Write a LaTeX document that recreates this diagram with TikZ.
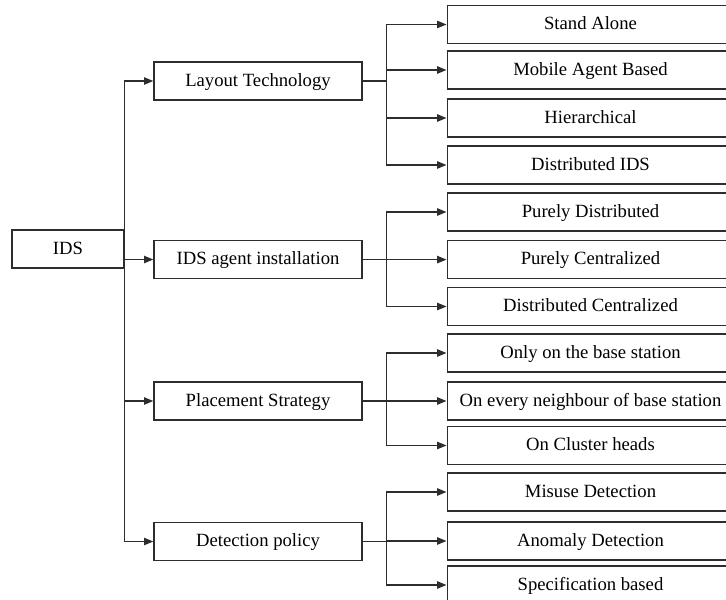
\documentclass[tikz,border=0pt]{standalone}
\usepackage{fontspec}
\setmainfont{Liberation Serif}
\usetikzlibrary{arrows.meta}
\definecolor{edge}{RGB}{45,45,45}
\tikzset{
  box/.style={draw=edge, line width=1pt, rectangle, inner sep=0pt,
    minimum height=28.3pt, text height=10pt, text depth=2.5pt,
    font=\fontsize{14}{16}\selectfont},
  rootbox/.style={box, minimum width=84pt},
  midbox/.style={box, minimum width=156pt},
  leafbox/.style={box, minimum width=215pt},
  link/.style={draw=edge, line width=1pt},
  arr/.style={link, -{Triangle[length=7pt,width=5.5pt]}}
}
\begin{document}
\begin{tikzpicture}[x=0.75pt,y=-0.75pt]
\useasboundingbox (0,0) rectangle (726,600);
\clip (0,0) rectangle (726,600);

% root
\node[rootbox] (ids) at (68,249) {IDS};

% categories
\node[midbox] (lt) at (258,81)    {Layout Technology};
\node[midbox] (ai) at (258,259.5) {IDS agent installation};
\node[midbox] (ps) at (258,401)   {Placement Strategy};
\node[midbox] (dp) at (258,541.5) {Detection policy};

% leaves
\node[leafbox] (sa)  at (590.5,24.5)  {Stand Alone};
\node[leafbox] (mab) at (590.5,70)    {Mobile Agent Based};
\node[leafbox] (hi)  at (590.5,118)   {Hierarchical};
\node[leafbox] (di)  at (590.5,165)   {Distributed IDS};

\node[leafbox] (pd)  at (590.5,212)   {Purely Distributed};
\node[leafbox] (pc)  at (590.5,259.6) {Purely Centralized};
\node[leafbox] (dc)  at (590.5,306.5) {Distributed Centralized};

\node[leafbox] (ob)  at (590.5,353)   {Only on the base station};
\node[leafbox] (on)  at (590.5,401)   {On every neighbour of base station};
\node[leafbox] (ch)  at (590.5,445.5) {On Cluster heads};

\node[leafbox] (md)  at (590.5,492)   {Misuse Detection};
\node[leafbox] (ad)  at (590.5,541)   {Anomaly Detection};
\node[leafbox] (sb)  at (590.5,585)   {Specification based};

% root to categories
\foreach \c in {lt,ai,ps,dp}
  \draw[arr] (ids.east) |- (\c.west);

% categories to leaves
\foreach \c in {sa,mab,hi,di}
  \draw[arr] (lt.east) -- ++(24,0) |- (\c.west);
\foreach \c in {pd,pc,dc}
  \draw[arr] (ai.east) -- ++(24,0) |- (\c.west);
\foreach \c in {ob,on,ch}
  \draw[arr] (ps.east) -- ++(24,0) |- (\c.west);
\foreach \c in {md,ad,sb}
  \draw[arr] (dp.east) -- ++(24,0) |- (\c.west);
\end{tikzpicture}
\end{document}
